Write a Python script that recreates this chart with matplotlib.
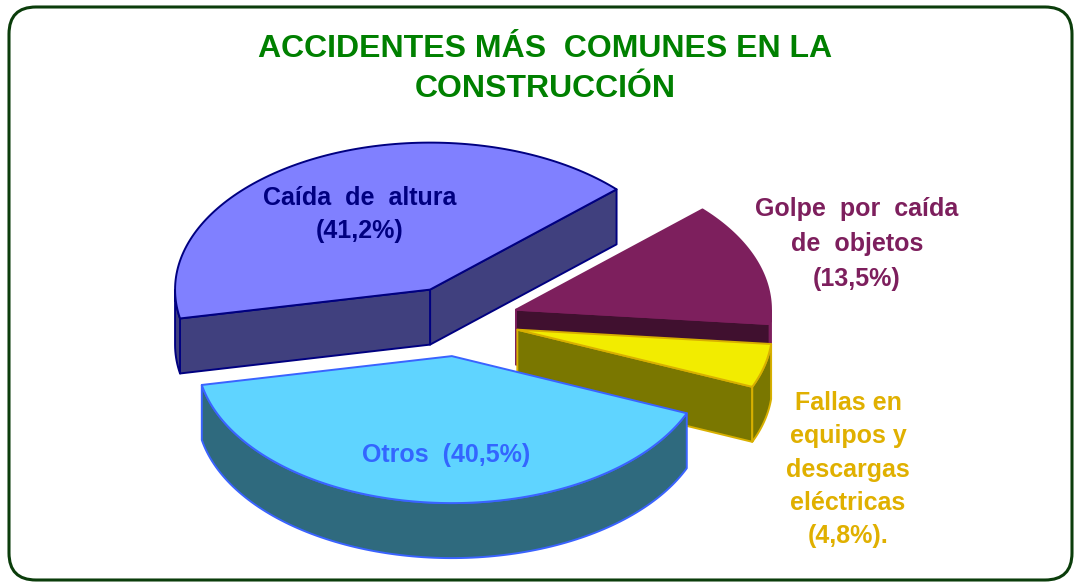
import numpy as np
import matplotlib
matplotlib.use("Agg")
import matplotlib.pyplot as plt
from matplotlib.patches import Polygon, FancyBboxPatch

# ---- data ----
categories = ["Caída de altura", "Otros", "Fallas en equipos y descargas eléctricas", "Golpe por caída de objetos"]
values = [41.2, 40.5, 4.8, 13.5]
label_lines = [["Caída  de  altura", "(41,2%)"],
               ["Otros  (40,5%)"],
               ["Fallas en", "equipos y", "descargas", "eléctricas", "(4,8%)."],
               ["Golpe  por  caída", "de  objetos", "(13,5%)"]]
top_colors = ["#8080FF", "#5FD4FF", "#F2EC00", "#7D1F5D"]
side_colors = ["#40407E", "#2F6A7E", "#7A7700", "#40102F"]
edge_colors = ["#000080", "#3A63FF", "#D8B000", "#7D1F5D"]
label_colors = ["#000080", "#3366FF", "#E0B000", "#7D1F5D"]
title_lines = ["ACCIDENTES MÁS  COMUNES EN LA", "CONSTRUCCIÓN"]

# ---- layout ----
W, H = 1081, 587
cx, cy = 458, 321          # pie centre (pixels)
rx, ry = 255, 147          # ellipse radii
depth = 55                 # wall height
explode = 0.24
start_angle = 43.0
draw_order = [0, 3, 2, 1]
label_x = [360, 446, 848, 857]
label_baseline = [205, 462, 410, 216]
label_step = [33, 33, 33.3, 35]

fig = plt.figure(figsize=(W / 100, H / 100), dpi=100)
ax = fig.add_axes([0, 0, 1, 1])
ax.set_xlim(0, W)
ax.set_ylim(H, 0)
ax.axis("off")

border = FancyBboxPatch((9, 7), W - 18, H - 14, boxstyle="round,pad=0,rounding_size=27",
                        fc="white", ec="#0B3D0B", lw=2.2, zorder=0)
ax.add_patch(border)

total = sum(values)
angles = []
a = start_angle
for v in values:
    span = 360.0 * v / total
    angles.append((a, a + span))
    a += span


def pt(ox, oy, th, dz=0.0):
    t = np.radians(th)
    return (ox + rx * np.cos(t), oy - ry * np.sin(t) + dz)


z = 1
for i in draw_order:
    a1, a2 = angles[i]
    mid = np.radians((a1 + a2) / 2)
    ox = cx + explode * rx * np.cos(mid)
    oy = cy - explode * ry * np.sin(mid)
    th = np.linspace(a1, a2, 120)
    faces = []
    if np.cos(np.radians(a1)) > 0:
        p = pt(ox, oy, a1)
        faces.append([(ox, oy), p, (p[0], p[1] + depth), (ox, oy + depth)])
    if np.cos(np.radians(a2)) < 0:
        p = pt(ox, oy, a2)
        faces.append([(ox, oy), p, (p[0], p[1] + depth), (ox, oy + depth)])
    s = np.sin(np.radians(th))
    mask = s <= 1e-9
    if mask.sum() > 1:
        tt = th[mask]
        top = [pt(ox, oy, t) for t in tt]
        bot = [pt(ox, oy, t, depth) for t in tt[::-1]]
        faces.append(top + bot)
    for f in faces:
        ax.add_patch(Polygon(f, closed=True, fc=side_colors[i], ec=edge_colors[i],
                             lw=1.4, joinstyle="round", zorder=z))
        z += 1
    topface = [(ox, oy)] + [pt(ox, oy, t) for t in th]
    ax.add_patch(Polygon(topface, closed=True, fc=top_colors[i], ec=edge_colors[i],
                         lw=1.4, joinstyle="round", zorder=z))
    z += 1

for i in range(len(values)):
    for k, line in enumerate(label_lines[i]):
        ax.text(label_x[i], label_baseline[i] + k * label_step[i], line, color=label_colors[i],
                fontsize=18, fontweight="bold", family="Liberation Sans",
                ha="center", va="baseline", zorder=50)

for k, line in enumerate(title_lines):
    ax.text(545, 57 + 40 * k, line, color="#008000", fontsize=23, fontweight="bold",
            family="Liberation Sans", ha="center", va="baseline", zorder=50)

fig.savefig("out.png", dpi=100)
